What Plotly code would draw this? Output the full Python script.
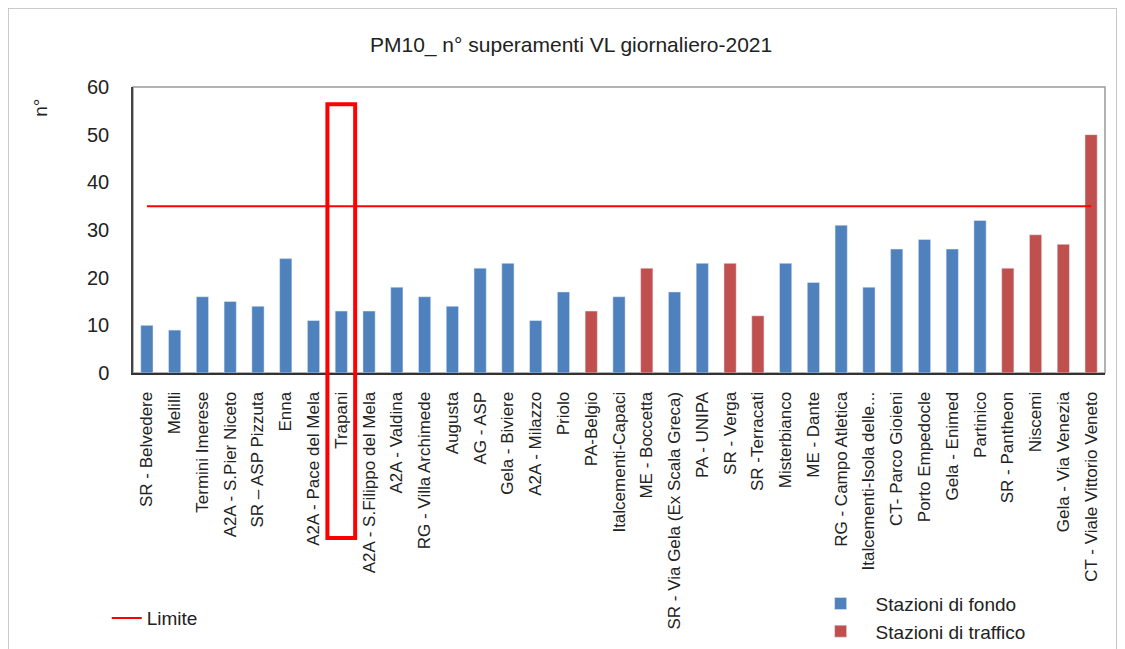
import plotly.graph_objects as go

# PM10 - numero di superamenti del valore limite giornaliero, 2021
stazioni = [
    'SR - Belvedere', 'Melilli', 'Termini Imerese', 'A2A - S.Pier Niceto', 'SR \u2013 ASP Pizzuta',
    'Enna', 'A2A - Pace del Mela', 'Trapani', 'A2A - S.Filippo del Mela', 'A2A - Valdina',
    'RG - Villa Archimede', 'Augusta', 'AG - ASP', 'Gela - Biviere', 'A2A - Milazzo',
    'Priolo', 'PA-Belgio', 'Italcementi-Capaci', 'ME - Boccetta', 'SR - Via Gela (Ex Scala Greca)',
    'PA - UNIPA', 'SR - Verga', 'SR -Terracati', 'Misterbianco', 'ME - Dante',
    'RG - Campo Atletica', 'Italcementi-Isola delle...', 'CT- Parco Gioieni', 'Porto Empedocle', 'Gela - Enimed',
    'Partinico', 'SR - Pantheon', 'Niscemi', 'Gela - Via Venezia', 'CT - Viale Vittorio Veneto',
]
superamenti = [10, 9, 16, 15, 14, 24, 11, 13, 13, 18, 16, 14, 22, 23, 11, 17, 13, 16, 22, 17,
               23, 23, 12, 23, 19, 31, 18, 26, 28, 26, 32, 22, 29, 27, 50]
tipo = ['F'] * 16 + ['T', 'F', 'T', 'F', 'F', 'T', 'T', 'F', 'F', 'F', 'F', 'F', 'F', 'F', 'F',
                     'T', 'T', 'T', 'T']
limite = [35] * len(stazioni)

fondo = [v if t == 'F' else None for v, t in zip(superamenti, tipo)]
traffico = [v if t == 'T' else None for v, t in zip(superamenti, tipo)]

traces = [go.Bar(x=stazioni, y=fondo, name='Stazioni di fondo', marker_color='#4F81BD', legend='legend2')]
traces.append(go.Bar(x=stazioni, y=traffico, name='Stazioni di traffico', marker_color='#C0504D', legend='legend2'))
traces.append(go.Scatter(x=stazioni, y=limite, name='Limite', mode='lines',
                         line=dict(color='#FF0000', width=2), legend='legend'))

fig = go.Figure(data=traces)

narrow = 'Liberation Sans Narrow, Liberation Sans'
# plot area on screen: x 133..1105 px, y 87..373 px (page body adds 8px offset)
fig.update_layout(
    width=1125, height=649,
    margin=dict(l=125, r=28, t=79, b=284, autoexpand=False),
    paper_bgcolor='white', plot_bgcolor='white',
    font=dict(family='Liberation Sans', color='#222'),
    barmode='overlay', bargap=0.56,
    showlegend=True,
    legend=dict(x=-0.027, y=-0.857, xanchor='left', yanchor='middle', bgcolor='rgba(0,0,0,0)',
                font=dict(size=19, family=narrow)),
    legend2=dict(x=0.692, y=-0.74, xanchor='left', yanchor='top', bgcolor='rgba(0,0,0,0)',
                 font=dict(size=19, family=narrow), itemwidth=60),
)
fig.update_xaxes(type='category', categoryorder='array', categoryarray=stazioni,
                 tickangle=-90, tickfont=dict(size=17), showline=True, linecolor='#333',
                 linewidth=2, ticks='outside', ticklen=10, tickcolor='white',
                 automargin=False, showgrid=False)
fig.update_yaxes(range=[0, 60], dtick=10, tickfont=dict(size=20), showline=True, linecolor='#444',
                 linewidth=1.5, showgrid=False, zeroline=False, ticks='outside', ticklen=18,
                 tickcolor='white', automargin=False)

fig.add_annotation(text='PM10_ n\u00b0 superamenti VL giornaliero-2021', xref='paper', yref='paper',
                   x=0.4506, y=1.147, xanchor='center', yanchor='middle', showarrow=False,
                   font=dict(size=21))
fig.add_annotation(text='n\u00b0', xref='paper', yref='paper', x=-0.0947, y=0.927, textangle=-90,
                   xanchor='center', yanchor='middle', showarrow=False, font=dict(size=19))

# bordo grigio dell'area di disegno (alto e destra)
fig.add_shape(type='rect', xref='paper', yref='paper', x0=0, x1=1, y0=0, y1=1,
              line=dict(color='#999', width=1.5), layer='below')
# cornice del grafico
fig.add_shape(type='rect', xref='paper', yref='paper', x0=-0.1286, x1=1.0123, y0=-1.1, y1=1.276,
              line=dict(color='#bbb', width=1.5))
# riquadro rosso su Trapani
fig.add_shape(type='rect', xref='x', yref='paper', x0=6.5, x1=7.5, y0=-0.577, y1=0.94,
              line=dict(color='#FF0000', width=4))

fig.write_html("out.html")
